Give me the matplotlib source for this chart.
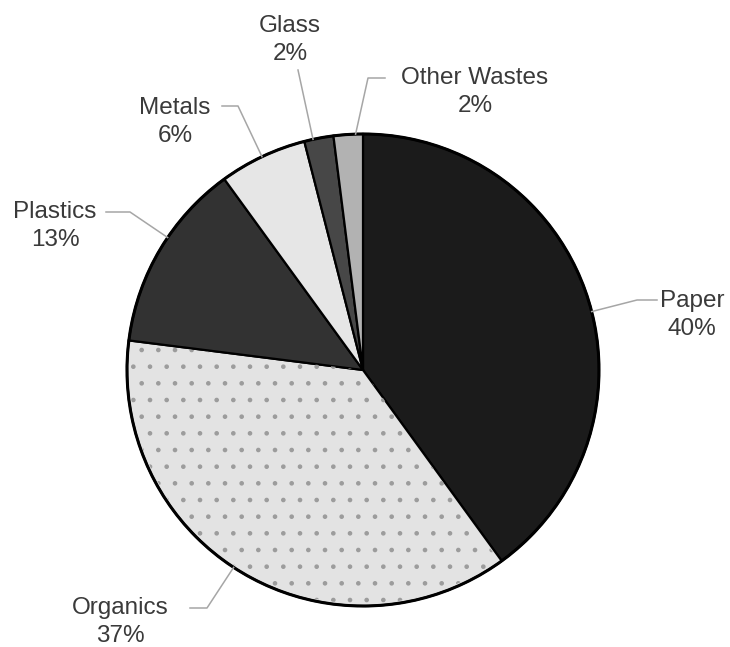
import numpy as np
import matplotlib.pyplot as plt
from matplotlib.patches import Wedge

# Data
categories = ["Paper", "Organics", "Plastics", "Metals", "Glass", "Other Wastes"]
shares = [40, 37, 13, 6, 2, 2]
colors = ["#1b1b1b", "#e3e3e3", "#323232", "#e6e6e6", "#474747", "#b2b2b2"]

# layout in pixels of the 730x647 canvas
cx, cy, rad = 363, 370, 236
text_px = [(692, 315), (120, 622), (55, 226), (175, 122), (290, 40), (475, 92)]
elbow_px = [(637, 300), (207, 608), (130, 212), (238, 106), None, (368, 78)]
end_px = [(657, 300), (190, 608), (106, 212), (222, 106), (298, 70), (385, 78)]


def to_data(p):
    return ((p[0] - cx) / rad, (cy - p[1]) / rad)


fig = plt.figure(figsize=(7.3, 6.47), dpi=100)
ax = fig.add_axes([0, 0, 1, 1])
ax.axis("off")

plt.rcParams["hatch.linewidth"] = 0.9
wedges, _ = ax.pie(shares, colors=colors, startangle=90, counterclock=False,
                   radius=1.0, wedgeprops=dict(edgecolor="black", linewidth=1.6))
ax.set_xlim(-cx / rad, (730 - cx) / rad)
ax.set_ylim(-(647 - cy) / rad, cy / rad)
ax.set_aspect("equal")

# speckle texture on Organics
w = wedges[1]
ax.add_patch(Wedge((0, 0), 0.99, w.theta1 + 0.5, w.theta2 - 0.5, facecolor="none",
                   edgecolor="#9c9c9c", linewidth=0, hatch="."))
# outer rim
ax.add_patch(plt.Circle((0, 0), 1.0, fill=False, edgecolor="black", linewidth=2.2))

# labels and leader lines
for i, wd in enumerate(wedges):
    first = to_data(elbow_px[i] if elbow_px[i] is not None else end_px[i])
    ang = np.degrees(np.arctan2(first[1], first[0]))
    t1, t2 = wd.theta1, wd.theta2
    # bring angle into wedge range
    while ang < t1 - 180:
        ang += 360
    while ang > t2 + 180:
        ang -= 360
    m = 0.25 * (t2 - t1)
    ang = np.radians(np.clip(ang, t1 + m, t2 - m))
    pts = [(np.cos(ang), np.sin(ang))]
    if elbow_px[i] is not None:
        pts.append(to_data(elbow_px[i]))
    pts.append(to_data(end_px[i]))
    xs, ys = zip(*pts)
    ax.plot(xs, ys, color="#a6a6a6", linewidth=1.1, zorder=1)
    tx, ty = to_data(text_px[i])
    ax.text(tx, ty, f"{categories[i]}\n{shares[i]}%", ha="center", va="center",
            fontsize=17.5, family="Liberation Sans", color="#3a3a3a", linespacing=1.3)

fig.savefig("out.png", dpi=100)
